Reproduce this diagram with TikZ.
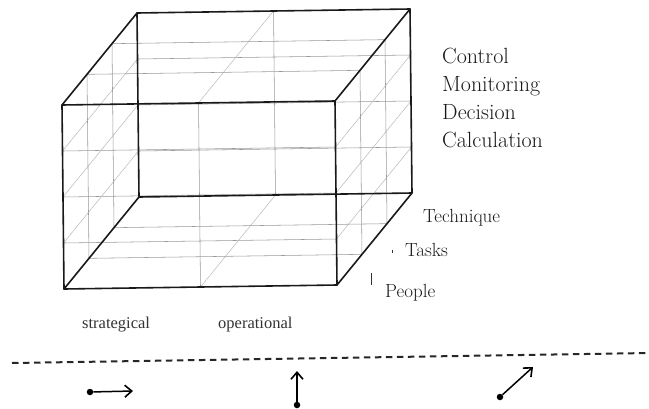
\documentclass[tikz,border=0pt]{standalone}
\usepackage{fontspec}
\newfontfamily\timesf{Liberation Serif}
\usetikzlibrary{arrows.meta}
\begin{document}
\begin{tikzpicture}[x=1pt,y=-1pt,
  edge/.style={line width=1.6pt, line join=round, line cap=round, black!90},
  gridl/.style={line width=0.55pt, black!40},
  depthl/.style={line width=0.5pt, black!28},
  biglbl/.style={inner sep=0pt, anchor=base west, font=\fontsize{22}{26}\selectfont, black!90},
  midlbl/.style={inner sep=0pt, anchor=base west, font=\fontsize{19}{22}\selectfont, black!90},
  smalllbl/.style={inner sep=0pt, anchor=base west, font=\timesf\fontsize{16.5}{19}\selectfont, black!80},
  dotnode/.style={circle, fill=black, inner sep=0pt, minimum size=6.5pt},
  arr/.style={line width=1.5pt, -{Straight Barb[length=7pt, width=12pt, line width=1.6pt]}},
  tick/.style={line width=1pt, black!80}
]
\useasboundingbox (0,0) rectangle (649,408);

\begin{scope}[shift={(64,289)}, x={(273pt,4pt)}, y={(-2pt,184pt)}, z={(75pt,92pt)}]
  % corners
  \coordinate (FBL) at (0,0,0);
  \coordinate (FBR) at (1,0,0);
  \coordinate (FTL) at (0,1,0);
  \coordinate (FTR) at (1,1,0);
  \coordinate (BBL) at (0,0,1);
  \coordinate (BBR) at (1,0,1);
  \coordinate (BTL) at (0,1,1);
  \coordinate (BTR) at (1,1,1);
  % front and back faces
  \foreach \w in {0,1} {
    \draw[gridl] (0.5,0,\w) -- (0.5,1,\w);
    \foreach \v in {0.25,0.5,0.75} \draw[gridl] (0,\v,\w) -- (1,\v,\w);
  }
  % top and bottom faces
  \foreach \v in {0,1} {
    \draw[depthl] (0.5,\v,0) -- (0.5,\v,1);
    \foreach \w in {0.3333,0.6667} \draw[gridl] (0,\v,\w) -- (1,\v,\w);
  }
  % left and right faces
  \foreach \u in {0,1} {
    \foreach \w in {0.3333,0.6667} \draw[gridl] (\u,0,\w) -- (\u,1,\w);
    \foreach \v in {0.25,0.5,0.75} \draw[depthl] (\u,\v,0) -- (\u,\v,1);
  }
  % edges
  \draw[edge] (FBL) -- (FBR) -- (FTR) -- (FTL) -- cycle;
  \draw[edge] (BBL) -- (BBR) -- (BTR) -- (BTL) -- cycle;
  \draw[edge] (FBL) -- (BBL);
  \draw[edge] (FBR) -- (BBR);
  \draw[edge] (FTL) -- (BTL);
  \draw[edge] (FTR) -- (BTR);
\end{scope}

% right labels
\node[biglbl] (control) at (442,63) {Control};
\node[biglbl] (monitoring) at (442,91) {Monitoring};
\node[biglbl] (decision) at (442,119) {Decision};
\node[biglbl] (calculation) at (442,147) {Calculation};

\node[midlbl] (technique) at (423,222) {Technique};
\node[midlbl] (tasks) at (405,256) {Tasks};
\node[midlbl] (people) at (385,297) {People};

% small tick marks
\coordinate (tka) at (392,250);
\coordinate (tkb) at (392,253);
\draw[tick] (tka) -- (tkb);
\coordinate (tpa) at (371,273);
\coordinate (tpb) at (371,285);
\draw[tick] (tpa) -- (tpb);

% bottom labels
\node[smalllbl] (strat) at (82,328) {strategical};
\node[smalllbl] (oper) at (218,328) {operational};

% dashed line
\coordinate (dl) at (12,363);
\coordinate (dr) at (649,353);
\draw[line width=2pt, black!85, dash pattern=on 6.5pt off 4.5pt] (dl) -- (dr);

% arrows
\node[dotnode] (d1) at (90,392) {};
\coordinate (t1) at (133,391);
\draw[arr] (d1) -- (t1);

\node[dotnode] (d2) at (297,405) {};
\coordinate (t2) at (297,371);
\draw[arr] (d2) -- (t2);

\node[dotnode] (d3) at (500,397) {};
\coordinate (t3) at (533,367);
\draw[arr] (d3) -- (t3);
\end{tikzpicture}
\end{document}
